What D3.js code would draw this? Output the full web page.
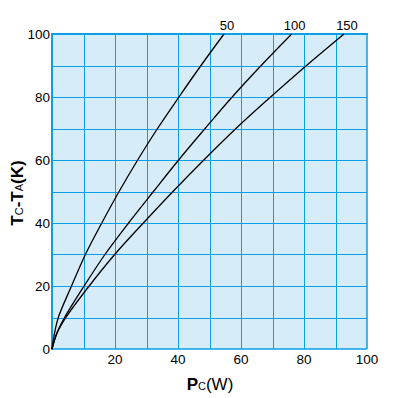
<!DOCTYPE html>
<html><head><meta charset="utf-8">
<script src="https://cdn.jsdelivr.net/npm/d3@7"></script>
<style>body{margin:0;background:#fff}svg{display:block}text{font-family:"Liberation Sans",Arial,sans-serif}</style>
</head><body><svg id="c" width="401" height="398"></svg>
<script>
const xTicks = [0,20,40,60,80,100];
const yTicks = [0,20,40,60,80,100];
const seriesNames = ["50","100","150"];
const curve50  = [[0,0],[0.8,5],[2.0,10],[6.2,20],[10.6,30],[15.8,40],[21.3,50],[27.2,60],[33.5,70],[40.3,80],[47.3,90],[54.6,100]];
const curve100 = [[0,0],[1.5,5],[4.0,10],[10.2,20],[16.8,30],[24.3,40],[32.2,50],[40.2,60],[48.6,70],[57.2,80],[66.4,90],[76.1,100]];
const curve150 = [[0,0],[1.6,5],[4.4,10],[11.8,20],[19.9,30],[29.0,40],[38.4,50],[48.2,60],[58.4,70],[69.4,80],[80.8,90],[92.7,100]];
const seriesData = [curve50, curve100, curve150];

const svg = d3.select("#c");
const L=52, R=367, T=34, B=349;
const x = d3.scaleLinear().domain([0,100]).range([L,R]);
const y = d3.scaleLinear().domain([0,100]).range([B,T]);
const grid = "#0aa0e6";

svg.append("rect").attr("x",L).attr("y",T).attr("width",R-L).attr("height",B-T).attr("fill","#d6ecf9");
const gx = d3.range(10,100,10), gy = d3.range(10,100,10);
svg.append("g").selectAll("line").data(gx).join("line")
  .attr("x1",d=>Math.round(x(d))+0.5).attr("x2",d=>Math.round(x(d))+0.5).attr("y1",T).attr("y2",B)
  .attr("stroke",grid).attr("stroke-width",1);
svg.append("g").selectAll("line").data(gy).join("line")
  .attr("y1",d=>Math.round(y(d))+0.5).attr("y2",d=>Math.round(y(d))+0.5).attr("x1",L).attr("x2",R)
  .attr("stroke",grid).attr("stroke-width",1);
// border
svg.append("line").attr("x1",L-1).attr("x2",R+1).attr("y1",T).attr("y2",T).attr("stroke",grid).attr("stroke-width",2);
svg.append("line").attr("x1",L).attr("x2",L).attr("y1",T-1).attr("y2",B+1).attr("stroke",grid).attr("stroke-width",2);
svg.append("line").attr("x1",R).attr("x2",R).attr("y1",T).attr("y2",B).attr("stroke",grid).attr("stroke-width",1.5);
svg.append("line").attr("x1",L).attr("x2",R).attr("y1",B).attr("y2",B).attr("stroke",grid).attr("stroke-width",1.5);

const line = d3.line().x(d=>x(d[0])).y(d=>y(d[1])).curve(d3.curveCatmullRom.alpha(0.5));
svg.append("g").selectAll("path").data(seriesData).join("path")
  .attr("d",line).attr("fill","none").attr("stroke","#000").attr("stroke-width",1.3);

// curve labels
svg.append("g").selectAll("text").data(seriesData).join("text")
  .attr("x",d=>x(d[d.length-1][0])+3).attr("y",30).attr("text-anchor","middle")
  .attr("font-size",13).text((d,i)=>seriesNames[i]);

// tick labels
svg.append("g").selectAll("text").data(yTicks).join("text")
  .attr("x",50).attr("y",d=>y(d)+4.5).attr("text-anchor","end").attr("font-size",13.5).text(d=>d);
svg.append("g").selectAll("text").data(xTicks.slice(1)).join("text")
  .attr("x",d=>x(d)).attr("y",364).attr("text-anchor","middle").attr("font-size",13.5).text(d=>d);

// axis titles
const xt = svg.append("text").attr("x",210).attr("y",390).attr("text-anchor","middle");
xt.append("tspan").attr("font-size",17).attr("font-weight","bold").text("P");
xt.append("tspan").attr("font-size",11).text("C");
xt.append("tspan").attr("font-size",17).text("(W)");

const yt = svg.append("text").attr("transform","translate(23,193) rotate(-90)").attr("text-anchor","middle");
yt.append("tspan").attr("font-size",17).attr("font-weight","bold").text("T");
yt.append("tspan").attr("font-size",11).text("C");
yt.append("tspan").attr("font-size",17).attr("font-weight","bold").text("-T");
yt.append("tspan").attr("font-size",11).text("A");
yt.append("tspan").attr("font-size",17).attr("font-weight","bold").text("(K)");
</script></body></html>
